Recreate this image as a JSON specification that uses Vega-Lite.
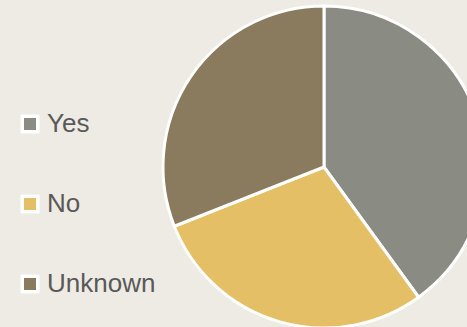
{
  "$schema": "https://vega.github.io/schema/vega-lite/v6.json",
  "autosize": {"type": "none"},
  "width": 322,
  "height": 322,
  "padding": {"left": 163, "top": 6, "right": 0, "bottom": 0},
  "background": "#eeebe4",
  "config": {"view": {"stroke": null}},
  "data": {"values": [
    {"answer": "Yes", "share": 40, "rank": 1},
    {"answer": "No", "share": 29, "rank": 2},
    {"answer": "Unknown", "share": 31, "rank": 3}
  ]},
  "mark": {"type": "arc", "stroke": "white", "strokeWidth": 3},
  "encoding": {
    "theta": {"field": "share", "type": "quantitative", "stack": true},
    "order": {"field": "rank", "type": "quantitative"},
    "color": {
      "field": "answer", "type": "nominal",
      "scale": {"domain": ["Yes", "No", "Unknown"], "range": ["#8a8b83", "#e5bf66", "#8a7a5e"]},
      "legend": {
        "title": null,
        "orient": "none",
        "legendX": -146,
        "legendY": 105,
        "symbolType": "square",
        "symbolSize": 240,
        "symbolStrokeColor": "white",
        "symbolStrokeWidth": 3.5,
        "symbolOpacity": 1,
        "labelFont": "Liberation Sans",
        "labelFontSize": 26,
        "labelColor": "#595959",
        "labelOffset": 4,
        "rowPadding": 50,
        "padding": 0
      }
    }
  }
}
